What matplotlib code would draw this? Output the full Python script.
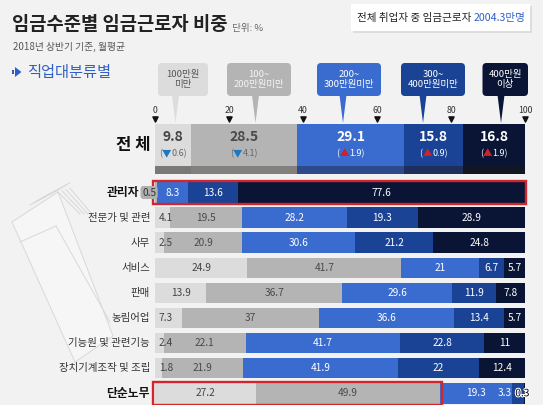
import numpy as np
import matplotlib
matplotlib.use('Agg')
import matplotlib.pyplot as plt
from matplotlib.patches import FancyBboxPatch, Rectangle, Polygon
import matplotlib.patheffects as pe

plt.rcParams['font.family'] = ['Noto Sans CJK KR', 'DejaVu Sans']

# data
title = '임금수준별 임금근로자 비중'
subtitle = '2018년 상반기 기준, 월평균'
section = '직업대분류별'
legend_labels = ['100만원\n미만', '100~\n200만원미만', '200~\n300만원미만', '300~\n400만원미만', '400만원\n이상']
ticks = [0, 20, 40, 60, 80, 100]
total = [9.8, 28.5, 29.1, 15.8, 16.8]
total_change = [-0.6, -4.1, 1.9, 0.9, 1.9]
categories = ['관리자', '전문가 및 관련', '사무', '서비스', '판매', '농림어업',
              '기능원 및 관련기능', '장치기계조작 및 조립', '단순노무']
under100 = [0, 4.1, 2.5, 24.9, 13.9, 7.3, 2.4, 1.8, 27.2]
w100_200 = [0.5, 19.5, 20.9, 41.7, 36.7, 37, 22.1, 21.9, 49.9]
w200_300 = [8.3, 28.2, 30.6, 21, 29.6, 36.6, 41.7, 41.9, 19.3]
w300_400 = [13.6, 19.3, 21.2, 6.7, 11.9, 13.4, 22.8, 22, 3.3]
over400 = [77.6, 28.9, 24.8, 5.7, 7.8, 5.7, 11, 12.4, 0.3]
highlight = ['관리자', '단순노무']

colors = ['#dcdcdc', '#b4b4b4', '#3a6bcf', '#1a4396', '#0a1434']
strip_colors = ['#7b7876', '#84807e', '#2f4a8a', '#1e2f5e', '#121522']
text_colors = ['#444444', '#4a4a4a', 'white', 'white', 'white']
blue_txt = '#2f5fc4'
red = '#d3262c'

W, H = 543, 405
fig = plt.figure(figsize=(W / 100, H / 100), dpi=100, facecolor='#f2f2f2')
ax = fig.add_axes([0, 0, 1, 1])
ax.set_xlim(0, W)
ax.set_ylim(H, 0)
ax.axis('off')

# decorative envelope drawing
env = Polygon([(12, 222), (58, 192), (113, 336), (75, 362)], closed=True,
              facecolor='#f6f6f6', edgecolor='#d8d8d8', lw=0.7)
ax.add_patch(env)
for dx in [0, 4, 8, 12]:
    ax.plot([58 + dx, 80 + dx], [192 - dx * 0.3, 214], color='#d8d8d8', lw=0.7)
    ax.plot([30 + dx, 58 + dx], [205 - dx * 0.6, 190 - dx * 0.6], color='#d8d8d8', lw=0.7)
ax.plot([20, 56], [242, 226], color='#d8d8d8', lw=0.7)
ax.plot([56, 110], [226, 322], color='#d8d8d8', lw=0.7)

# header
t = ax.text(12, 29.5, title, fontsize=13.5, fontweight='bold', color='#222222', va='baseline')
ax.annotate('  단위: %', xy=(1, 0), xycoords=t, fontsize=6.8, color='#666666', va='bottom')
ax.text(13, 47, subtitle, fontsize=7, color='#555555', va='center')

shadow = FancyBboxPatch((353, 6), 179, 27, boxstyle='square,pad=0', facecolor='#dddddd',
                        edgecolor='none')
ax.add_patch(shadow)
ax.add_patch(FancyBboxPatch((351, 4), 179, 27, boxstyle='square,pad=0', facecolor='white',
                            edgecolor='none'))
t1 = ax.text(357, 18, '전체 취업자 중 임금근로자 ', fontsize=7.6, color='#222222', va='center')
ax.annotate('2004.3만명', xy=(1, 0), xycoords=t1, fontsize=7.6, color=blue_txt, va='bottom')

ax.add_patch(Polygon([(15, 67), (15, 77), (21.5, 72)], closed=True, facecolor=blue_txt,
                     edgecolor='none'))
ax.add_patch(Rectangle((11.5, 70), 2.5, 4, facecolor=blue_txt, edgecolor='none'))
ax.text(27, 72, section, fontsize=11, color=blue_txt, va='center')

# legend callouts
box_x = [(158, 208), (227, 291), (317, 381), (401, 465), (482.5, 528)]
tail_x = [175.5, 255.5, 343, 423, 501]
box_txt = ['#555555', '#f4f4f4', 'white', 'white', 'white']
for (x0, x1), tx, lab, c, tc in zip(box_x, tail_x, legend_labels, colors, box_txt):
    ax.add_patch(Polygon([(tx - 3.5, 95), (tx + 3.5, 95), (tx, 123)], closed=True,
                         facecolor=c, edgecolor='none'))
    ax.add_patch(FancyBboxPatch((x0, 63), x1 - x0, 33,
                                boxstyle='round,pad=0,rounding_size=4',
                                facecolor=c, edgecolor='none'))
    ax.text((x0 + x1) / 2, 79.5, lab, fontsize=6.8, color=tc, ha='center', va='center',
            linespacing=1.05)

# bars axes: x in percent, y in pixel rows
axb = fig.add_axes([155 / W, 0, 370 / W, 290 / H])
axb.set_xlim(0, 100)
axb.set_ylim(405, 115)
axb.axis('off')
axb.patch.set_alpha(0)

for tk in ticks:
    axb.text(tk, 110.5, str(tk), fontsize=6.3, color='#333333', ha='center', va='center',
             clip_on=False)
axb.scatter(ticks, [118.5] * len(ticks), marker='v', s=14, color='#111111', clip_on=False,
            zorder=3)

# total row
left = np.concatenate([[0], np.cumsum(total)[:-1]])
axb.barh(145, total, left=left, height=42, color=colors, linewidth=0)
axb.barh(170, total, left=left, height=8, color=strip_colors, linewidth=0)
for i, (l, v, d) in enumerate(zip(left, total, total_change)):
    cx = l + v / 2
    axb.text(cx, 137, f'{v:g}', fontsize=10, fontweight='bold', color=text_colors[i],
             ha='center', va='center')
    sub_c = '#666666' if i < 2 else 'white'
    mark = '▼' if d < 0 else '▲'
    mc = '#1b78c2' if d < 0 else '#d0202a'
    tm = axb.annotate(mark, xy=(cx, 154), xytext=(-4.5, 0), textcoords='offset points',
                      fontsize=6.8, color=mc, ha='center', va='center')
    axb.annotate('(', xy=(0, 0.5), xycoords=tm, fontsize=6.5, color=sub_c,
                 ha='right', va='center')
    axb.annotate(f'{abs(d):g})', xy=(1, 0.5), xycoords=tm, fontsize=6.5, color=sub_c,
                 ha='left', va='center')
ax.text(150, 145, '전 체', fontsize=12, fontweight='bold', color='#111111',
        ha='right', va='center')

# occupation rows
series = [under100, w100_200, w200_300, w300_400, over400]
vals = np.array(series).T
row_y = 192.5 + 25.1 * np.arange(len(categories))
for r, (cat, y) in enumerate(zip(categories, row_y)):
    row = vals[r]
    lefts = np.concatenate([[0], np.cumsum(row)[:-1]])
    axb.barh(y, row, left=lefts, height=20.5, color=colors, linewidth=0)
    bold = cat in highlight
    lab_x = 139 if (bold and row[0] == 0) else 150
    ax.text(lab_x, y, cat, fontsize=8.5 if bold else 7.5,
            fontweight='bold' if bold else 'normal', color='#111111' if bold else '#333333',
            ha='right', va='center')
    for j, (l, v) in enumerate(zip(lefts, row)):
        if v == 0:
            continue
        cx = l + v / 2
        ha = 'center'
        if v < 1 and l < 1:
            axb.text(-1.6, y, f'{v:g}', fontsize=7.3, color='#333333', ha='center',
                     va='center', clip_on=False, zorder=5,
                     bbox=dict(boxstyle='round,pad=0.15,rounding_size=0.3',
                               fc='#b0b0b0', ec='none'))
            continue
        if v < 1:
            axb.text(min(cx, 99.3), y, f'{v:g}', fontsize=7.3, color='black',
                     ha='center', va='center', zorder=5, clip_on=False,
                     path_effects=[pe.withStroke(linewidth=1.5, foreground='white')])
            continue
        if j + 1 < len(row) and 0 < row[j + 1] < 1:
            cx -= 3.5
        if j == 0 and v < 8:
            cx, ha = 1.0, 'left'
        axb.text(cx, y, f'{v:g}', fontsize=7.3, color=text_colors[j], ha=ha, va='center')
    if bold:
        end = 100 if r == 0 else row[0] + row[1]
        axb.add_patch(Rectangle((-0.6, y - 11.2), end + 1.0, 22.4, fill=False,
                                edgecolor=red, lw=1.7, clip_on=False, zorder=4))

fig.savefig('out.png', dpi=100, facecolor=fig.get_facecolor())
